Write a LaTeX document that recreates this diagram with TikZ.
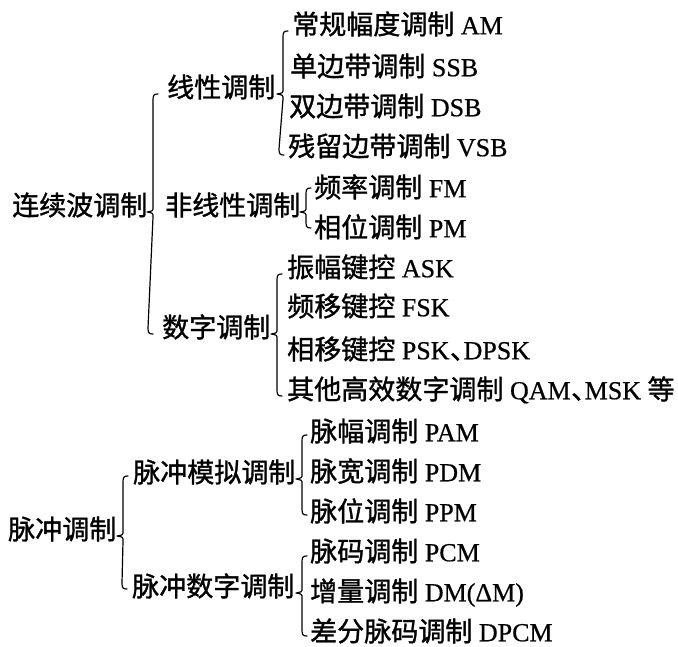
\documentclass[tikz,border=0pt]{standalone}
\usepackage{fontspec}
\setmainfont[FakeBold=0.6]{Liberation Serif}
\newfontfamily\cjk[Scale=1.04,FakeBold=1.2]{Noto Sans CJK SC}
\newfontfamily\cjkhalf[Scale=1.04,FakeBold=1.2,RawFeature=+halt]{Noto Sans CJK SC}
\usetikzlibrary{calc}
\newcommand\dun{\hspace{0.5pt}{\cjkhalf 、}}
\newcommand\mkbrace[6]{%
  \coordinate (#1-t) at ($(#2.west)+(#4,#5)$);
  \coordinate (#1-b) at ($(#3.west)+(#4,#6)$);
  \coordinate (#1-m) at (#1-t |- #1.west);
  \draw[bracepath] ($(#1-t)+(5,0)$) .. controls ($(#1-t)+(1,0)$) and ($(#1-t)+(0,1)$) .. ($(#1-t)+(0,6)$)
    -- ($(#1-m)+(0,-5)$) .. controls ($(#1-m)+(0,-1)$) .. ($(#1-m)+(-6,0)$)
    .. controls ($(#1-m)+(0,1)$) .. ($(#1-m)+(0,5)$)
    -- ($(#1-b)+(0,-6)$) .. controls ($(#1-b)+(0,-1)$) and ($(#1-b)+(1,0)$) .. ($(#1-b)+(5,0)$);
}
\tikzset{
  lbl/.style={anchor=west, inner sep=0pt, text height=0.8em, text depth=0.15em,
    font=\fontsize{26}{30}\selectfont},
  bracepath/.style={line width=1.2pt, line cap=round, line join=round}
}
\begin{document}
\begin{tikzpicture}[x=1pt,y=-1pt]
\useasboundingbox (0,0) rectangle (678,647);
\begin{scope}[yshift=-6pt]
% continuous-wave modulation
\node[lbl] (root1) at (12,206) {\cjk 连续波调制};
\node[lbl] (lin) at (167,88) {\cjk 线性调制};
\node[lbl] (nonlin) at (165,206) {\cjk 非线性调制};
\node[lbl] (dig) at (162,328) {\cjk 数字调制};
\node[lbl] (am) at (292,25) {{\cjk 常规幅度调制} AM};
\node[lbl] (ssb) at (290,67) {{\cjk 单边带调制} SSB};
\node[lbl] (dsb) at (289,107) {{\cjk 双边带调制} DSB};
\node[lbl] (vsb) at (288,147) {{\cjk 残留边带调制} VSB};
\node[lbl] (fm) at (314,188) {{\cjk 频率调制} FM};
\node[lbl] (pm) at (314,228) {{\cjk 相位调制} PM};
\node[lbl] (ask) at (287,268) {{\cjk 振幅键控} ASK};
\node[lbl] (fsk) at (287,307) {{\cjk 频移键控} FSK};
\node[lbl] (psk) at (287,350) {{\cjk 相移键控} PSK\dun DPSK};
\node[lbl] (qam) at (287,390) {{\cjk 其他高效数字调制} QAM\dun MSK {\cjk 等}};
% pulse modulation
\node[lbl] (root2) at (8,530) {\cjk 脉冲调制};
\node[lbl] (pana) at (133,473) {\cjk 脉冲模拟调制};
\node[lbl] (pdig) at (132,587) {\cjk 脉冲数字调制};
\node[lbl] (pam) at (310,432) {{\cjk 脉幅调制} PAM};
\node[lbl] (pdm) at (310,472) {{\cjk 脉宽调制} PDM};
\node[lbl] (ppm) at (310,512) {{\cjk 脉位调制} PPM};
\node[lbl] (pcm) at (310,552) {{\cjk 脉码调制} PCM};
\node[lbl] (dm) at (310,592) {{\cjk 增量调制} DM(ΔM)};
\node[lbl] (dpcm) at (310,632) {{\cjk 差分脉码调制} DPCM};
% braces
\mkbrace{root1}{lin}{dig}{-14}{0}{0}
\mkbrace{lin}{am}{vsb}{-9}{0}{2}
\mkbrace{nonlin}{fm}{pm}{-8}{-6}{-6}
\mkbrace{dig}{ask}{qam}{-10}{0}{0}
\mkbrace{root2}{pana}{pdig}{-10}{-3}{-4}
\mkbrace{pana}{pam}{ppm}{-8}{-3}{-3}
\mkbrace{pdig}{pcm}{dpcm}{-8}{-2}{-2}
\end{scope}
\end{tikzpicture}
\end{document}
